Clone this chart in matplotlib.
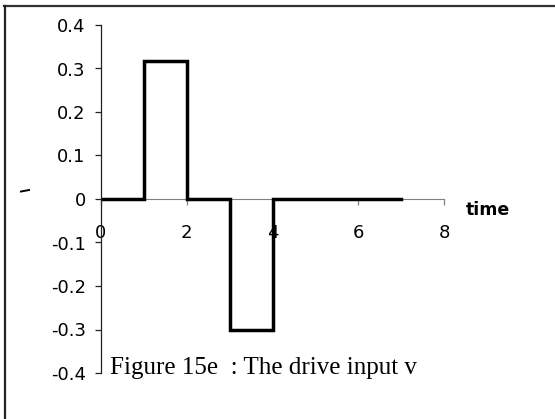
import matplotlib
matplotlib.use("Agg")
import matplotlib.pyplot as plt
from matplotlib.lines import Line2D

# drive input v: piecewise constant, steps-post
t = [0, 1, 2, 3, 4, 7]
v = [0, 0.318, 0, -0.3, 0, 0]
xticks = [0, 2, 4, 6, 8]
yticks = [-0.4, -0.3, -0.2, -0.1, 0, 0.1, 0.2, 0.3, 0.4]

W, H = 555, 419
fig = plt.figure(figsize=(W / 100, H / 100), dpi=100)
ax = fig.add_axes([101 / W, (H - 373) / H, 343 / W, 348 / H])

ax.plot(t, v, drawstyle="steps-post", color="black", linewidth=2.5,
        solid_joinstyle="miter")

ax.set_xlim(0, 8)
ax.set_ylim(-0.4, 0.4)
ax.set_xticks(xticks)
ax.set_xticklabels([str(x) for x in xticks])
ax.set_yticks(yticks)
ax.set_yticklabels(["%g" % y for y in yticks])

ax.spines["top"].set_visible(False)
ax.spines["right"].set_visible(False)
ax.spines["bottom"].set_position(("data", 0))
ax.spines["bottom"].set_color("#808080")
ax.spines["bottom"].set_zorder(0)
ax.spines["left"].set_color("#222222")
ax.spines["left"].set_linewidth(0.9)
ax.tick_params(axis="y", direction="out", length=4, width=0.9, color="#222222",
               pad=7, labelsize=13)
ax.tick_params(axis="x", direction="out", length=4, width=0.9, color="#808080",
               pad=14, labelsize=13)
for lab in ax.get_xticklabels() + ax.get_yticklabels():
    lab.set_family("DejaVu Sans")

ax.text(8.5, -0.025, "time", fontsize=12.5, fontweight="bold",
        family="DejaVu Sans", ha="left", va="center")

fig.text(110 / W, (H - 374) / H, "Figure 15e  : The drive input v",
         family="Liberation Serif", fontsize=18, ha="left", va="baseline")

# outer frame (top and left only) and a stray mark
fig.add_artist(Line2D([4 / W, 1], [1 - 6.5 / H, 1 - 6.5 / H], color="#333333",
                      linewidth=1.6, transform=fig.transFigure))
fig.add_artist(Line2D([4.5 / W, 4.5 / W], [0, 1 - 6.5 / H], color="#222222",
                      linewidth=1.6, transform=fig.transFigure))
fig.add_artist(Line2D([21 / W, 29 / W], [1 - 191.5 / H, 1 - 190 / H],
                      color="black", linewidth=1.4, transform=fig.transFigure))

fig.savefig("out.png", dpi=100)
